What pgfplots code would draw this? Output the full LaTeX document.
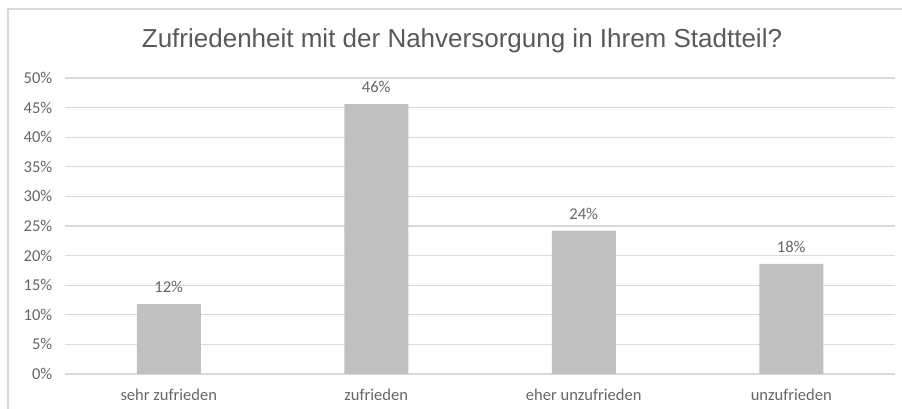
\documentclass[border=0pt]{standalone}
\usepackage{pgfplots}
\pgfplotsset{compat=1.18}
\usepackage{fontspec}
\setmainfont{Carlito}
\newfontfamily\titlefont{Liberation Sans}
\definecolor{txt}{HTML}{595959}
\definecolor{tick}{HTML}{666666}
\definecolor{gridc}{HTML}{D9D9D9}
\definecolor{barc}{HTML}{C0C0C0}
\pgfplotstableread{
x y lab
0 11.8 12
1 45.6 46
2 24.2 24
3 18.6 18
}\datatab
\begin{document}
\begin{tikzpicture}
\useasboundingbox (0pt,0pt) rectangle (676.5pt,306.75pt);
\draw[gridc, line width=1pt] (6pt,0pt) -- (6pt,300pt) -- (676.5pt,300pt);
\node[anchor=base, text=txt, font=\titlefont\fontsize{19.5}{22}\selectfont] at (346.5pt,270.75pt) {Zufriedenheit mit der Nahversorgung in Ihrem Stadtteil?};
\begin{axis}[
  at={(48.75pt,26.25pt)}, anchor=south west,
  scale only axis, width=622.5pt, height=222pt,
  ybar, bar width=48pt,
  xmin=-0.5, xmax=3.5, ymin=0, ymax=50,
  xtick={0,1,2,3},
  xticklabels={sehr zufrieden, zufrieden, eher unzufrieden, unzufrieden},
  ytick={0,5,...,50},
  yticklabel={\pgfmathprintnumber{\tick}\%},
  /pgf/number format/assume math mode=true,
  axis line style={draw=none},
  major tick length=0pt,
  ymajorgrids, grid style={gridc, line width=0.9pt},
  tick label style={font=\fontsize{12.4}{14}\selectfont, text=tick},
  yticklabel style={anchor=east, xshift=-6pt},
  xticklabel style={anchor=center, yshift=-15.75pt},
  point meta=explicit symbolic,
  nodes near coords={\pgfplotspointmeta\%},
  nodes near coords style={anchor=center, yshift=12.75pt, font=\fontsize{12.4}{14}\selectfont, text=tick},
  clip=false,
]
\addplot[fill=barc, draw=none] table[x=x, y=y, meta=lab] {\datatab};
\end{axis}
\end{tikzpicture}
\end{document}
